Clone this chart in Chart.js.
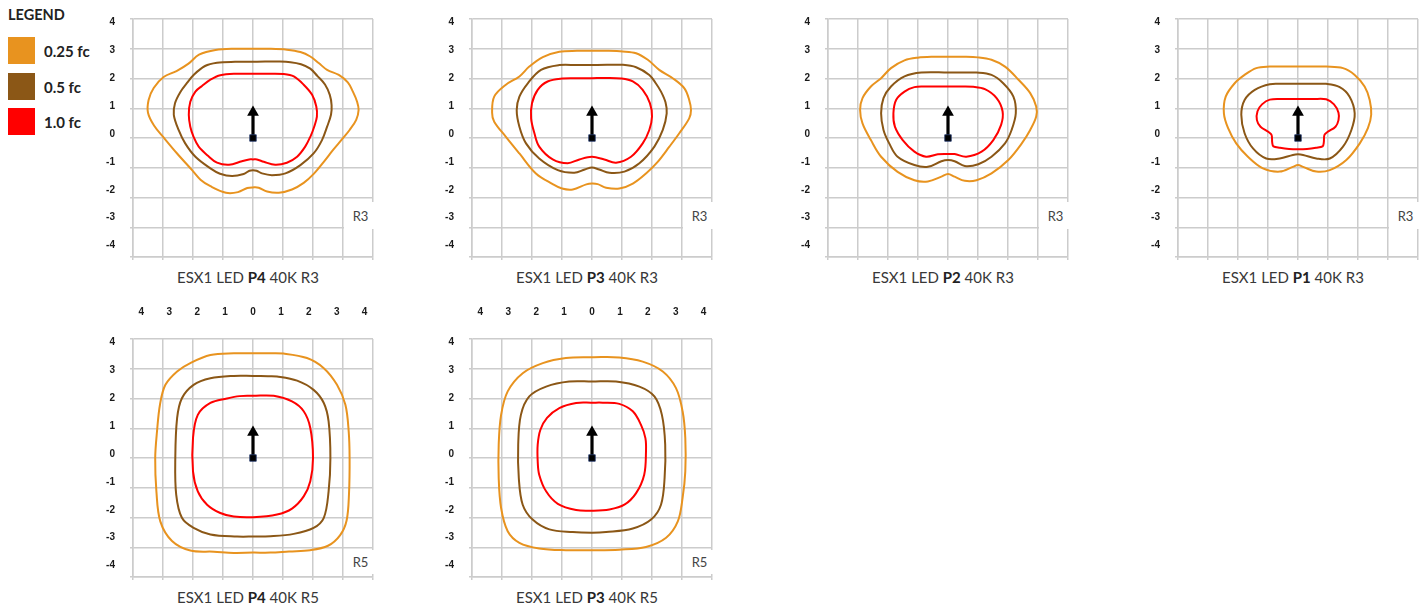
<!DOCTYPE html>
<html><head><meta charset="utf-8">
<script src="https://cdn.jsdelivr.net/npm/chart.js@4.4.1/dist/chart.umd.min.js"></script>
<style>
html,body{margin:0;padding:0;background:#fff;}
body{width:1423px;height:611px;overflow:hidden;position:relative;font-family:Lato,"Open Sans",sans-serif;}
.wrap{position:absolute;}
.title{position:absolute;width:300px;text-align:center;font-size:15px;line-height:18px;color:#383838;white-space:nowrap;}
.title b{font-weight:700;color:#222;}
.rbox{position:absolute;background:#fff;width:34px;text-align:center;font-size:13px;color:#444;}
.sw{position:absolute;left:8px;width:27px;height:27px;}
.lg{position:absolute;left:44px;font-size:15px;font-weight:700;color:#222;line-height:18px;}
#legend-title{position:absolute;left:8px;top:6px;font-size:14.5px;font-weight:700;color:#222;line-height:18px;}
</style>
</head><body>
<div id="legend-title">LEGEND</div>
<script>
// ---- data ----
const LEVELS = ['0.25 fc', '0.5 fc', '1.0 fc'];
const LEVEL_COLORS = ['#E8931F', '#8B5716', '#FF0000'];
const X_TICKS = [-4, -3, -2, -1, 0, 1, 2, 3, 4];
const X_TICK_LABELS = ['4', '3', '2', '1', '0', '1', '2', '3', '4'];
const Y_TICKS = [-4, -3, -2, -1, 0, 1, 2, 3, 4];
const Y_TICK_LABELS = ['-4', '-3', '-2', '-1', '0', '1', '2', '3', '4'];

const ARROW_SHAFT = [[0, 0], [0, 0.78]];
const ARROW_HEAD = [[0, 0.86]];
const ORIGIN = [[0, 0]];

// ESX1 LED P4 40K R3
const P4R3_025 = [[0,3.00],[0.58,3.00],[1.13,2.97],[1.58,2.89],[1.91,2.74],[2.19,2.52],[2.47,2.29],[2.86,2.12],[3.16,1.87],[3.33,1.56],[3.47,1.22],[3.52,0.94],[3.44,0.61],[3.22,0.27],[2.97,-0.04],[2.67,-0.40],[2.36,-0.80],[2.04,-1.19],[1.69,-1.51],[1.30,-1.73],[0.86,-1.84],[0.47,-1.80],[0.19,-1.67],[0,-1.66],[-0.19,-1.68],[-0.50,-1.82],[-0.90,-1.84],[-1.42,-1.62],[-1.75,-1.40],[-2.03,-1.08],[-2.53,-0.52],[-2.98,0.02],[-3.30,0.42],[-3.50,0.85],[-3.48,1.28],[-3.31,1.68],[-2.98,2.05],[-2.55,2.25],[-2.15,2.50],[-1.80,2.80],[-1.25,2.96],[-0.55,3.00],[0,3.00]];
const P4R3_05 = [[0,2.56],[0.40,2.57],[0.80,2.57],[1.25,2.55],[1.60,2.48],[1.91,2.33],[2.15,2.08],[2.40,1.80],[2.56,1.45],[2.62,1.10],[2.60,0.78],[2.47,0.38],[2.30,-0.07],[2.02,-0.52],[1.58,-0.91],[1.08,-1.19],[0.63,-1.25],[0.30,-1.19],[0.12,-1.10],[0,-1.08],[-0.12,-1.10],[-0.31,-1.21],[-0.70,-1.28],[-1.10,-1.20],[-1.42,-1.02],[-1.92,-0.63],[-2.26,-0.18],[-2.48,0.27],[-2.64,0.78],[-2.60,1.17],[-2.42,1.55],[-2.20,1.85],[-1.98,2.12],[-1.60,2.42],[-1.20,2.53],[-0.60,2.56],[0,2.56]];
const P4R3_10 = [[0,2.16],[0.50,2.16],[1.02,2.15],[1.36,2.07],[1.69,1.79],[1.97,1.45],[2.11,1.06],[2.13,0.72],[2.04,0.38],[1.91,0.04],[1.74,-0.29],[1.47,-0.63],[1.13,-0.83],[0.74,-0.90],[0.36,-0.80],[0.13,-0.72],[0,-0.72],[-0.13,-0.72],[-0.37,-0.78],[-0.80,-0.90],[-1.20,-0.83],[-1.50,-0.60],[-1.81,-0.29],[-1.98,0.04],[-2.09,0.38],[-2.14,0.78],[-2.09,1.22],[-1.92,1.56],[-1.70,1.75],[-1.42,1.96],[-1.09,2.11],[-0.53,2.16],[0,2.16]];

// ESX1 LED P3 40K R3
const P3R3_025 = [[0,2.93],[0.50,2.93],[1.02,2.91],[1.47,2.85],[1.86,2.63],[2.24,2.29],[2.69,2.01],[3.08,1.67],[3.24,1.28],[3.30,0.94],[3.24,0.66],[2.91,0.16],[2.58,-0.29],[2.19,-0.80],[1.80,-1.19],[1.36,-1.53],[0.91,-1.70],[0.47,-1.67],[0.19,-1.55],[0,-1.53],[-0.19,-1.56],[-0.64,-1.73],[-1.00,-1.70],[-1.31,-1.55],[-1.87,-1.19],[-2.42,-0.52],[-2.87,0.04],[-3.26,0.55],[-3.33,0.85],[-3.26,1.39],[-2.87,1.79],[-2.42,2.07],[-2.09,2.40],[-1.64,2.72],[-1.09,2.90],[-0.50,2.93],[0,2.93]];
const P3R3_05 = [[0,2.45],[0.50,2.46],[1.02,2.46],[1.47,2.38],[1.91,2.12],[2.12,1.85],[2.30,1.56],[2.45,1.20],[2.49,0.83],[2.36,0.27],[2.08,-0.29],[1.58,-0.85],[1.08,-1.13],[0.58,-1.17],[0.24,-1.06],[0,-0.99],[-0.24,-1.06],[-0.59,-1.17],[-1.14,-1.08],[-1.76,-0.69],[-2.20,-0.18],[-2.42,0.38],[-2.51,0.94],[-2.42,1.39],[-2.14,1.84],[-1.70,2.29],[-1.09,2.45],[-0.50,2.45],[0,2.45]];
const P3R3_10 = [[0,2.01],[0.50,2.02],[0.97,2.00],[1.36,1.90],[1.69,1.62],[1.93,1.17],[2.00,0.72],[1.91,0.27],[1.69,-0.18],[1.30,-0.63],[0.80,-0.83],[0.41,-0.72],[0,-0.63],[-0.42,-0.72],[-0.81,-0.85],[-1.31,-0.72],[-1.76,-0.29],[-1.92,0.16],[-2.03,0.66],[-2.00,1.17],[-1.81,1.62],[-1.48,1.90],[-0.98,2.00],[-0.50,2.01],[0,2.01]];

// ESX1 LED P2 40K R3
const P2R3_025 = [[0,2.73],[0.50,2.73],[1.00,2.71],[1.45,2.63],[1.90,2.40],[2.35,1.96],[2.74,1.51],[2.94,1.06],[2.94,0.72],[2.74,0.27],[2.46,-0.18],[2.01,-0.74],[1.45,-1.19],[0.95,-1.42],[0.56,-1.44],[0.22,-1.30],[0,-1.21],[-0.22,-1.30],[-0.67,-1.46],[-1.12,-1.42],[-1.68,-1.14],[-2.23,-0.63],[-2.57,-0.07],[-2.85,0.49],[-2.93,0.94],[-2.85,1.34],[-2.57,1.73],[-2.23,2.01],[-1.90,2.35],[-1.45,2.61],[-1.01,2.70],[-0.50,2.73],[0,2.73]];
const P2R3_05 = [[0,2.20],[0.50,2.20],[0.95,2.20],[1.45,2.12],[1.84,1.84],[2.18,1.39],[2.26,0.83],[2.12,0.27],[1.90,-0.18],[1.45,-0.63],[1.01,-0.88],[0.56,-0.94],[0.22,-0.78],[0,-0.74],[-0.22,-0.78],[-0.67,-0.97],[-1.12,-0.91],[-1.68,-0.63],[-1.96,-0.18],[-2.15,0.27],[-2.23,0.83],[-2.15,1.34],[-1.90,1.73],[-1.45,2.07],[-0.89,2.20],[0,2.20]];
const P2R3_10 = [[0,1.73],[0.40,1.73],[0.84,1.72],[1.23,1.64],[1.62,1.34],[1.82,0.89],[1.77,0.44],[1.51,-0.07],[1.12,-0.46],[0.61,-0.63],[0.22,-0.54],[0,-0.54],[-0.34,-0.55],[-0.73,-0.63],[-1.12,-0.46],[-1.51,-0.07],[-1.77,0.38],[-1.82,0.83],[-1.73,1.28],[-1.45,1.56],[-1.12,1.71],[-0.78,1.73],[0,1.73]];

// ESX1 LED P1 40K R3
const P1R3_025 = [[0,2.40],[0.50,2.40],[0.94,2.40],[1.50,2.35],[1.89,2.12],[2.22,1.73],[2.39,1.28],[2.44,0.78],[2.33,0.33],[2.06,-0.18],[1.61,-0.74],[1.06,-1.08],[0.61,-1.13],[0.17,-0.97],[0,-0.91],[-0.17,-0.97],[-0.61,-1.13],[-1.17,-1.02],[-1.67,-0.63],[-2.06,-0.18],[-2.33,0.33],[-2.47,0.83],[-2.41,1.39],[-2.11,1.84],[-1.78,2.12],[-1.39,2.35],[-0.94,2.40],[-0.50,2.40],[0,2.40]];
const P1R3_05 = [[0,1.82],[0.50,1.82],[0.94,1.82],[1.39,1.71],[1.72,1.39],[1.89,0.83],[1.78,0.27],[1.50,-0.29],[1.06,-0.69],[0.61,-0.69],[0.17,-0.57],[0,-0.55],[-0.17,-0.57],[-0.61,-0.69],[-1.06,-0.69],[-1.50,-0.35],[-1.78,0.16],[-1.89,0.78],[-1.78,1.28],[-1.44,1.62],[-0.94,1.81],[-0.50,1.82],[0,1.82]];
const P1R3_10 = [[0,1.31],[0.50,1.31],[0.94,1.30],[1.20,1.13],[1.35,0.85],[1.35,0.60],[1.25,0.38],[0.98,0.20],[0.88,0.10],[0.86,-0.15],[0.82,-0.28],[0.60,-0.33],[0.30,-0.37],[0,-0.38],[-0.30,-0.37],[-0.60,-0.33],[-0.82,-0.28],[-0.86,-0.15],[-0.88,0.10],[-0.98,0.20],[-1.25,0.38],[-1.37,0.60],[-1.35,0.90],[-1.20,1.13],[-0.94,1.29],[-0.50,1.31],[0,1.31]];

// ESX1 LED P4 40K R5
const P4R5_025 = [[0,3.52],[0.50,3.52],[1.02,3.51],[1.80,3.36],[2.36,3.02],[2.80,2.46],[3.08,1.79],[3.19,0.89],[3.22,0],[3.20,-1.20],[3.12,-2.10],[2.90,-2.60],[2.50,-2.95],[1.90,-3.10],[1.20,-3.14],[0.58,-3.18],[0,-3.18],[-0.64,-3.19],[-1.30,-3.15],[-2.09,-3.11],[-2.70,-2.79],[-3.09,-2.13],[-3.22,-1.12],[-3.26,0],[-3.20,0.89],[-3.10,1.80],[-2.92,2.46],[-2.53,2.91],[-2.09,3.19],[-1.42,3.46],[-0.64,3.52],[0,3.52]];
const P4R5_05 = [[0,2.76],[0.50,2.75],[0.80,2.74],[1.47,2.60],[2.02,2.29],[2.36,1.85],[2.52,1.23],[2.58,0],[2.52,-1.12],[2.36,-2.01],[2.02,-2.35],[1.36,-2.55],[0.58,-2.63],[0,-2.64],[-0.53,-2.64],[-1.42,-2.57],[-1.98,-2.35],[-2.37,-2.01],[-2.56,-1.23],[-2.59,0],[-2.53,1.34],[-2.37,2.01],[-1.98,2.46],[-1.42,2.68],[-0.64,2.76],[0,2.76]];
const P4R5_10 = [[0,2.09],[0.69,2.09],[1.30,1.90],[1.69,1.57],[1.91,1.01],[2.00,0],[1.91,-0.78],[1.69,-1.29],[1.30,-1.70],[0.80,-1.90],[0,-1.99],[-0.64,-1.97],[-1.09,-1.85],[-1.53,-1.57],[-1.84,-1.12],[-2.00,-0.45],[-2.00,0.67],[-1.84,1.45],[-1.42,1.85],[-0.87,2.00],[-0.45,2.08],[0,2.09]];

// ESX1 LED P3 40K R5
const P3R5_025 = [[0,3.39],[0.91,3.38],[1.69,3.24],[2.36,2.91],[2.80,2.35],[3.02,1.57],[3.11,0.67],[3.11,-0.45],[3.02,-1.34],[2.86,-2.13],[2.47,-2.68],[1.80,-2.99],[0.91,-3.08],[0,-3.10],[-0.87,-3.10],[-1.76,-3.04],[-2.42,-2.85],[-2.81,-2.46],[-3.03,-1.68],[-3.11,-0.67],[-3.11,0.45],[-3.03,1.45],[-2.81,2.24],[-2.31,2.85],[-1.64,3.19],[-0.87,3.36],[0,3.39]];
const P3R5_05 = [[0,2.57],[0.80,2.57],[1.58,2.40],[2.08,2.07],[2.33,1.45],[2.44,0.45],[2.42,-0.67],[2.30,-1.57],[1.97,-2.07],[1.36,-2.37],[0.47,-2.49],[0,-2.51],[-0.64,-2.49],[-1.42,-2.40],[-1.98,-2.07],[-2.31,-1.57],[-2.44,-0.67],[-2.46,0.45],[-2.37,1.45],[-2.09,2.07],[-1.53,2.40],[-0.76,2.57],[0,2.57]];
const P3R5_10 = [[0,1.86],[0.36,1.86],[0.91,1.82],[1.36,1.57],[1.63,1.12],[1.78,0.67],[1.80,0.22],[1.74,-0.56],[1.47,-1.18],[1.08,-1.57],[0.58,-1.73],[0,-1.77],[-0.53,-1.75],[-1.14,-1.54],[-1.53,-1.12],[-1.76,-0.56],[-1.81,-0.11],[-1.81,0.45],[-1.72,0.95],[-1.50,1.35],[-1.09,1.68],[-0.53,1.85],[0,1.86]];

// ---- layout (pixel position of each plot's grid) ----
const PANELS = [
  {pre:'ESX1 LED ', bold:'P4', post:' 40K R3', tag:'R3', curves:[P4R3_025,P4R3_05,P4R3_10], left:133, top:19},
  {pre:'ESX1 LED ', bold:'P3', post:' 40K R3', tag:'R3', curves:[P3R3_025,P3R3_05,P3R3_10], left:472, top:19},
  {pre:'ESX1 LED ', bold:'P2', post:' 40K R3', tag:'R3', curves:[P2R3_025,P2R3_05,P2R3_10], left:828, top:19},
  {pre:'ESX1 LED ', bold:'P1', post:' 40K R3', tag:'R3', curves:[P1R3_025,P1R3_05,P1R3_10], left:1178, top:19},
  {pre:'ESX1 LED ', bold:'P4', post:' 40K R5', tag:'R5', curves:[P4R5_025,P4R5_05,P4R5_10], left:133, top:339},
  {pre:'ESX1 LED ', bold:'P3', post:' 40K R5', tag:'R5', curves:[P3R5_025,P3R5_05,P3R5_10], left:472, top:339}
];
const GRID_W = 240, GRID_H = 238, OFF_L = 40, OFF_T = 40, PAD_R = 10, PAD_B = 10;

// legend
const SW_TOPS = [37, 73, 108];
LEVELS.forEach((lv, i) => {
  const sw = document.createElement('div');
  sw.className = 'sw'; sw.style.top = SW_TOPS[i] + 'px'; sw.style.background = LEVEL_COLORS[i];
  document.body.appendChild(sw);
  const t = document.createElement('div');
  t.className = 'lg'; t.style.top = (SW_TOPS[i] + 5) + 'px'; t.textContent = lv;
  document.body.appendChild(t);
});

const toPts = arr => arr.map(p => ({x: p[0], y: p[1]}));
const tickFont = {family: '"Liberation Sans", Arial, sans-serif', size: 10, weight: 'bold'};
const GRID_COLOR = '#cccccc';

PANELS.forEach((p, idx) => {
  const wrap = document.createElement('div');
  wrap.className = 'wrap';
  wrap.style.left = (p.left - OFF_L) + 'px';
  wrap.style.top = (p.top - OFF_T) + 'px';
  const W = OFF_L + GRID_W + PAD_R, H = OFF_T + GRID_H + PAD_B;
  wrap.style.width = W + 'px'; wrap.style.height = H + 'px';
  const cv = document.createElement('canvas');
  cv.width = W; cv.height = H; cv.style.width = W + 'px'; cv.style.height = H + 'px';
  wrap.appendChild(cv);
  document.body.appendChild(wrap);

  const datasets = [
    {data: toPts(ARROW_HEAD), pointStyle: 'triangle', pointRadius: 6.8, backgroundColor: '#000', borderColor: '#000', borderWidth: 0, showLine: false},
    {data: toPts(ORIGIN), pointStyle: 'rect', pointRadius: 4.6, backgroundColor: '#000', borderColor: '#22386e', borderWidth: 0.8, showLine: false},
    {data: toPts(ARROW_SHAFT), showLine: true, borderColor: '#000', borderWidth: 3.2, pointRadius: 0, tension: 0},
  ];
  p.curves.forEach((c, i) => {
    datasets.push({data: toPts(c), showLine: true, borderColor: LEVEL_COLORS[i], borderWidth: 2, pointRadius: 0, tension: 0.35, fill: false});
  });

  const rowTop = p.top < 200;
  new Chart(cv, {
    type: 'scatter',
    data: {datasets},
    options: {
      responsive: false, animation: false, events: [],
      layout: {padding: {left: 0, top: 0, right: PAD_R, bottom: 0}},
      plugins: {legend: {display: false}, tooltip: {enabled: false}, title: {display: false}},
      scales: {
        x: {type: 'linear', position: 'bottom', min: -4, max: 4,
            afterBuildTicks: s => { s.ticks = X_TICKS.map(v => ({value: v})); },
            grid: {color: GRID_COLOR, lineWidth: 1.5, tickLength: 3, drawTicks: true},
            border: {color: GRID_COLOR, width: 1.5},
            ticks: {display: false},
            afterFit: s => { s.height = PAD_B; }},
        y: {type: 'linear', position: 'left', weight: 1, min: -4, max: 4,
            afterBuildTicks: s => { s.ticks = Y_TICKS.map(v => ({value: v})); },
            grid: {color: GRID_COLOR, lineWidth: 1.5, tickLength: 3, drawTicks: true},
            border: {color: GRID_COLOR, width: 1.5},
            ticks: {display: false},
            afterFit: s => { s.width = 10; }},
        x2: {type: 'linear', position: 'top', min: -4.3, max: 4.3,
            afterBuildTicks: s => { s.ticks = X_TICKS.map(v => ({value: v})); },
            grid: {display: false}, border: {display: false},
            ticks: {padding: 13, maxRotation: 0, autoSkip: false, font: tickFont, color: '#1a1a1a',
                    callback: (v, i) => X_TICK_LABELS[i]},
            afterFit: s => { s.height = OFF_T; }},
        y2: {type: 'linear', position: 'left', weight: 2, min: -4.41, max: 4.13,
            afterBuildTicks: s => { s.ticks = Y_TICKS.map(v => ({value: v})); },
            grid: {display: false}, border: {display: false},
            ticks: {padding: 0, autoSkip: false, font: tickFont, color: '#1a1a1a',
                    callback: (v, i) => Y_TICK_LABELS[i]},
            afterFit: s => { s.width = OFF_L - 10; }}
      }
    }
  });

  // title
  const t = document.createElement('div');
  t.className = 'title';
  t.style.left = (p.left + GRID_W / 2 - 5 - 150) + 'px';
  t.style.top = (p.top + GRID_H + 11) + 'px';
  t.append(p.pre);
  const b = document.createElement('b'); b.textContent = p.bold; t.appendChild(b);
  t.append(p.post);
  document.body.appendChild(t);

  // R tag box
  const r = document.createElement('div');
  r.className = 'rbox';
  r.textContent = p.tag;
  r.style.left = (p.left + 210.5) + 'px';
  if (rowTop) { r.style.top = (p.top + 183) + 'px'; r.style.height = '27px'; r.style.lineHeight = '28px'; }
  else { r.style.top = (p.top + 211) + 'px'; r.style.height = '24px'; r.style.lineHeight = '24px'; }
  document.body.appendChild(r);
});
</script>
</body></html>
